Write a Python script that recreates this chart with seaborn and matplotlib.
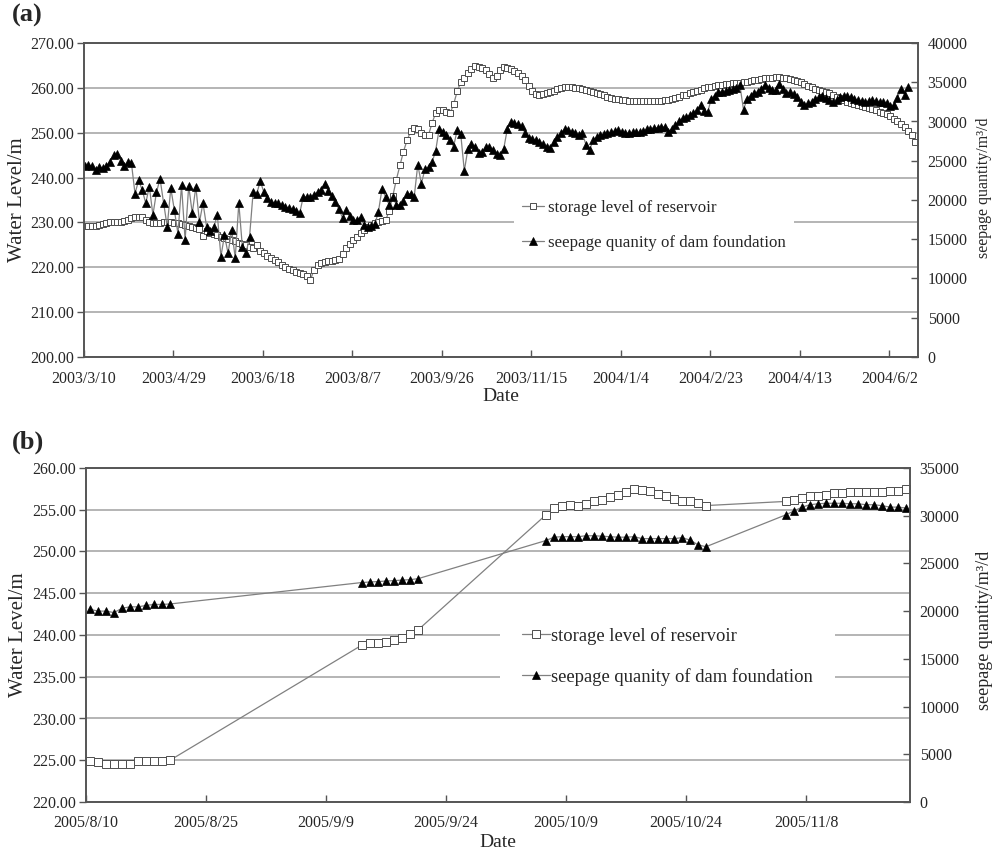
import numpy as np
import pandas as pd
import matplotlib
matplotlib.use("Agg")
import matplotlib.pyplot as plt
import matplotlib.ticker as mticker
import seaborn as sns

sns.set_style("white")
plt.rcParams["font.family"] = ["Liberation Serif", "DejaVu Serif"]

# ---------------- panel (a): 2003/3/10 - 2004/6/17, sampled every 2 days ----------------
a_start = "2003-03-10"
a_end = "2004-06-18"
a_step = "2D"
a_level = [
    229.2, 229.2, 229.3, 229.3, 229.4, 229.6, 229.8, 230.0, 230.0, 230.0,
    230.1, 230.3, 230.6, 230.9, 231.2, 231.2, 231.1, 230.6, 230.1, 229.9,
    229.8, 229.9, 230.0, 230.0, 230.0, 229.9, 229.8, 229.6, 229.4, 229.2,
    229.0, 228.8, 228.5, 227.0, 228.0, 227.7, 227.4, 227.1, 226.8, 226.5,
    226.3, 226.0, 225.8, 225.5, 225.2, 224.9, 224.6, 224.3, 225.0, 223.6,
    223.1, 222.6, 222.1, 221.6, 221.1, 220.6, 220.1, 219.6, 219.3, 219.0,
    218.8, 218.4, 218.0, 217.1, 219.5, 220.4, 220.9, 221.1, 221.3, 221.5,
    221.7, 221.9, 223.0, 224.3, 225.2, 226.0, 226.8, 227.6, 228.4, 229.0,
    229.5, 229.8, 230.0, 230.3, 230.5, 232.5, 235.8, 239.5, 242.7, 245.8,
    248.3, 250.3, 251.0, 250.8, 250.0, 249.5, 249.5, 252.2, 254.4, 255.0,
    255.0, 254.6, 254.3, 256.3, 259.2, 261.3, 262.1, 263.3, 264.2, 264.8,
    264.7, 264.5, 264.0, 263.2, 262.3, 262.6, 264.0, 264.6, 264.5, 264.3,
    263.8, 263.3, 262.6, 261.8, 260.5, 259.3, 258.6, 258.4, 258.6, 258.8,
    259.0, 259.4, 259.8, 260.0, 260.1, 260.1, 260.1, 260.0, 260.0, 259.8,
    259.6, 259.4, 259.1, 258.9, 258.6, 258.3, 258.0, 257.8, 257.6, 257.5,
    257.3, 257.2, 257.1, 257.0, 257.0, 257.0, 257.0, 257.0, 257.0, 257.0,
    257.1, 257.1, 257.2, 257.4, 257.6, 257.8, 258.0, 258.3, 258.5, 258.8,
    259.1, 259.4, 259.6, 259.9, 260.2, 260.3, 260.4, 260.6, 260.7, 260.8,
    260.9, 261.0, 261.0, 261.1, 261.2, 261.4, 261.5, 261.7, 261.8, 262.0,
    262.1, 262.2, 262.3, 262.4, 262.4, 262.3, 262.1, 261.9, 261.7, 261.5,
    261.2, 260.8, 260.4, 260.1, 259.8, 259.6, 259.4, 259.1, 258.8, 258.4,
    258.0, 257.7, 257.3, 256.9, 256.6, 256.4, 256.1, 255.9, 255.7, 255.5,
    255.3, 255.0, 254.7, 254.4, 254.1, 253.8, 253.1, 252.5, 251.9, 251.3,
    250.4, 249.4, 248.0,
]
a_seepage = [
    24300, 24500, 24300, 23800, 24200, 24100, 24300, 24900, 25700, 25900,
    25000, 24300, 24800, 24700, 20800, 22500, 21300, 19600, 21700, 18100,
    21000, 22700, 19600, 16600, 21500, 18700, 15700, 21900, 14900, 21800,
    18300, 21700, 17200, 19600, 16600, 16100, 16500, 18100, 12800, 15500,
    13200, 16200, 12600, 19600, 14000, 13200, 15300, 21000, 20800, 22400,
    21000, 20200, 19700, 19600, 19600, 19400, 19100, 19000, 18800, 18600,
    18300, 20400, 20400, 20400, 20700, 21000, 21300, 22100, 21100, 20500,
    19700, 18800, 17700, 18700, 17900, 17400, 17400, 17800, 16800, 16600,
    16700, 16900, 18500, 21400, 20400, 19400, 20400, 19400, 19400, 19900,
    20800, 20800, 20400, 24500, 22100, 23900, 24200, 24800, 26300, 29100,
    28700, 28300, 27600, 26800, 28900, 28400, 23700, 26500, 27100, 26800,
    26000, 26100, 26700, 26700, 26400, 25900, 25700, 26500, 29000, 29900,
    29800, 29700, 29400, 28500, 27900, 27800, 27600, 27400, 27100, 26700,
    26600, 27400, 28000, 28500, 29000, 28900, 28700, 28500, 28300, 28500,
    27000, 26400, 27600, 28000, 28300, 28400, 28500, 28600, 28800, 28900,
    28600, 28500, 28500, 28600, 28700, 28600, 28800, 29000, 29100, 29200,
    29200, 29300, 29300, 28700, 29100, 29500, 30000, 30400, 30600, 30800,
    31100, 31500, 32100, 31300, 31200, 32900, 33300, 33700, 33800, 33900,
    34000, 34100, 34300, 34600, 31500, 32900, 33300, 33600, 33800, 34200,
    34600, 34300, 34000, 34000, 34800, 34200, 33600, 33700, 33500, 33100,
    32500, 32100, 32300, 32500, 32900, 33100, 33300, 33000, 32700, 32500,
    32800, 33100, 33300, 33200, 33100, 32900, 32700, 32600, 32500, 32600,
    32700, 32600, 32500, 32500, 32400, 32000, 32100, 33000, 34200, 33400,
    34400,
]
a_ticklabels = ["2003/3/10", "2003/4/29", "2003/6/18", "2003/8/7", "2003/9/26",
                "2003/11/15", "2004/1/4", "2004/2/23", "2004/4/13", "2004/6/2"]

# ---------------- panel (b): daily records in four observation periods ----------------
b_end = "2005-11-21"
b_start = "2005-08-10"
b_period_starts = ["2005-08-10", "2005-09-13", "2005-10-06", "2005-11-05"]
b_level_periods = [
    [224.9, 224.8, 224.6, 224.6, 224.5, 224.6, 224.9, 224.9, 224.9, 224.9, 225.0],
    [238.8, 239.0, 239.1, 239.2, 239.4, 239.7, 240.1, 240.6],
    [254.4, 255.2, 255.4, 255.6, 255.4, 255.7, 256.0, 256.2, 256.5, 256.8, 257.1,
     257.5, 257.4, 257.2, 256.9, 256.6, 256.3, 256.1, 256.0, 255.8, 255.5],
    [256.0, 256.2, 256.4, 256.6, 256.7, 256.8, 257.0, 257.0, 257.1, 257.1, 257.1,
     257.1, 257.1, 257.2, 257.2, 257.5],
]
b_seepage_periods = [
    [20200, 20000, 20000, 19850, 20300, 20450, 20450, 20600, 20700, 20700, 20750],
    [23000, 23050, 23100, 23150, 23200, 23250, 23300, 23400],
    [27400, 27750, 27800, 27800, 27800, 27900, 27900, 27850, 27800, 27750, 27750,
     27800, 27600, 27600, 27600, 27600, 27600, 27700, 27450, 26950, 26750],
    [30100, 30500, 30900, 31150, 31250, 31300, 31300, 31300, 31250, 31250, 31150,
     31150, 31050, 30900, 30900, 30800],
]
b_ticklabels = ["2005/8/10", "2005/8/25", "2005/9/9", "2005/9/24",
                "2005/10/9", "2005/10/24", "2005/11/8"]

level_name = "storage level of reservoir"
seepage_name = "seepage quanity of dam foundation"
left_label = "Water Level/m"
right_label = "seepage quantity/m\u00b3/d"
x_label = "Date"

half_day = pd.Timedelta(hours=12)

a_level_dates = pd.date_range(a_start, periods=len(a_level), freq=a_step) + half_day
a_seep_dates = pd.date_range(a_start, periods=len(a_seepage), freq=a_step) + half_day

b_level_dates = pd.DatetimeIndex(np.concatenate([
    pd.date_range(s, periods=len(v), freq="D").values
    for s, v in zip(b_period_starts, b_level_periods)])) + half_day
b_level = [v for seg in b_level_periods for v in seg]
b_seep_dates = pd.DatetimeIndex(np.concatenate([
    pd.date_range(s, periods=len(v), freq="D").values
    for s, v in zip(b_period_starts, b_seepage_periods)])) + half_day
b_seepage = [v for seg in b_seepage_periods for v in seg]

SPINE = "#555555"
GRID = "#a8a8a8"
LINE = "#808080"
TICK_FS = 11.5

fig = plt.figure(figsize=(10, 8.55), dpi=100)
ax_a = fig.add_axes([0.084, 1 - 357 / 855, 0.834, 314 / 855])
ax_b = fig.add_axes([0.086, 1 - 802 / 855, 0.824, 334 / 855])


def draw_panel(ax, lv_dates, lv, sp_dates, sp, xlim, ticklabels, ylim_l, step_l,
               ylim_r, step_r, sq_size, tri_size, opt):
    ax2 = ax.twinx()
    sns.lineplot(x=lv_dates, y=lv, ax=ax, color=LINE, linewidth=0.9,
                 marker="s", markersize=sq_size, markerfacecolor="white",
                 markeredgecolor="#4d4d4d", markeredgewidth=0.7,
                 errorbar=None, legend=False)
    sns.lineplot(x=sp_dates, y=sp, ax=ax2, color=LINE, linewidth=0.9,
                 marker="^", markersize=tri_size, markerfacecolor="black",
                 markeredgecolor="black", markeredgewidth=0.5,
                 errorbar=None, legend=False)
    ax.lines[0].set_label(level_name)
    ax2.lines[0].set_label(seepage_name)

    ax.set_xlim(pd.Timestamp(xlim[0]), pd.Timestamp(xlim[1]))
    ticks = pd.to_datetime(ticklabels, format="%Y/%m/%d")
    ax.set_xticks(ticks)
    ax.set_xticklabels(ticklabels)

    ax.set_ylim(*ylim_l)
    ax.yaxis.set_major_locator(mticker.MultipleLocator(step_l))
    ax.yaxis.set_major_formatter(mticker.FormatStrFormatter("%.2f"))
    ax2.set_ylim(*ylim_r)
    ax2.yaxis.set_major_locator(mticker.MultipleLocator(step_r))
    ax2.yaxis.set_major_formatter(mticker.FormatStrFormatter("%d"))

    ax.yaxis.grid(True, color=GRID, linewidth=1.2)
    ax.xaxis.grid(False)
    ax2.grid(False)
    ax.set_axisbelow(True)

    for a in (ax, ax2):
        for s in a.spines.values():
            s.set_color(SPINE)
            s.set_linewidth(1.2)
            s.set_visible(True)

    ax.tick_params(axis="y", direction="out", length=5, width=1, color=SPINE,
                   pad=2, labelsize=TICK_FS, left=True)
    ax.tick_params(axis="x", direction="in", length=5, width=1, color=SPINE,
                   pad=opt["xpad"], labelsize=TICK_FS, bottom=True)
    ax2.tick_params(axis="y", direction="in", length=5, width=1, color=SPINE,
                    pad=7, labelsize=TICK_FS, right=True)

    ax.set_ylabel(left_label, fontsize=opt["lab_l"])
    ax.yaxis.set_label_coords(opt["ylab_x"], 0.5)
    ax2.set_ylabel(right_label, fontsize=opt["lab_r"])
    ax2.yaxis.set_label_coords(opt["rlab_x"], opt["rlab_y"])
    ax.set_xlabel(x_label, fontsize=14)
    ax.xaxis.set_label_coords(0.5, opt["xlab_y"])

    ax2.legend(handles=[ax.lines[0], ax2.lines[0]],
               labels=[level_name, seepage_name],
               loc="center left", bbox_to_anchor=(opt["x0"], opt["yc"]),
               borderaxespad=0, frameon=True, facecolor="white",
               edgecolor="none", framealpha=1, fancybox=False,
               fontsize=opt["fs"], handlelength=opt["hl"],
               handletextpad=opt["htp"], labelspacing=opt["ls"],
               borderpad=opt["bp"], numpoints=1)
    return ax2


draw_panel(ax_a, a_level_dates, a_level, a_seep_dates, a_seepage,
           (a_start, a_end), a_ticklabels, (200, 270), 10, (0, 40000), 5000,
           4.8, 6.0,
           dict(x0=(514 - 84) / 834, yc=(357 - 225.5) / 314, fs=12.2, hl=1.3,
                htp=0.18, ls=1.1, bp=0.5, xpad=10, lab_l=15, lab_r=11.5,
                ylab_x=(27 - 84) / 834, rlab_x=1.07, rlab_y=0.54,
                xlab_y=(357 - 388) / 314))

draw_panel(ax_b, b_level_dates, b_level, b_seep_dates, b_seepage,
           (b_start, b_end), b_ticklabels, (220, 260), 5, (0, 35000), 5000,
           5.4, 5.2,
           dict(x0=(500 - 86) / 824, yc=(802 - 656.5) / 334, fs=13.4, hl=1.5,
                htp=0.05, ls=1.25, bp=1.2, xpad=9, lab_l=15, lab_r=13,
                ylab_x=(28 - 86) / 824, rlab_x=1.08, rlab_y=0.515,
                xlab_y=(802 - 834) / 334))

fig.text(12 / 1000, 1 - 4 / 855, "(a)", ha="left", va="top", fontsize=19,
         fontweight="bold")
fig.text(12 / 1000, 1 - 431 / 855, "(b)", ha="left", va="top", fontsize=19,
         fontweight="bold")

fig.savefig("out.png", dpi=100)
